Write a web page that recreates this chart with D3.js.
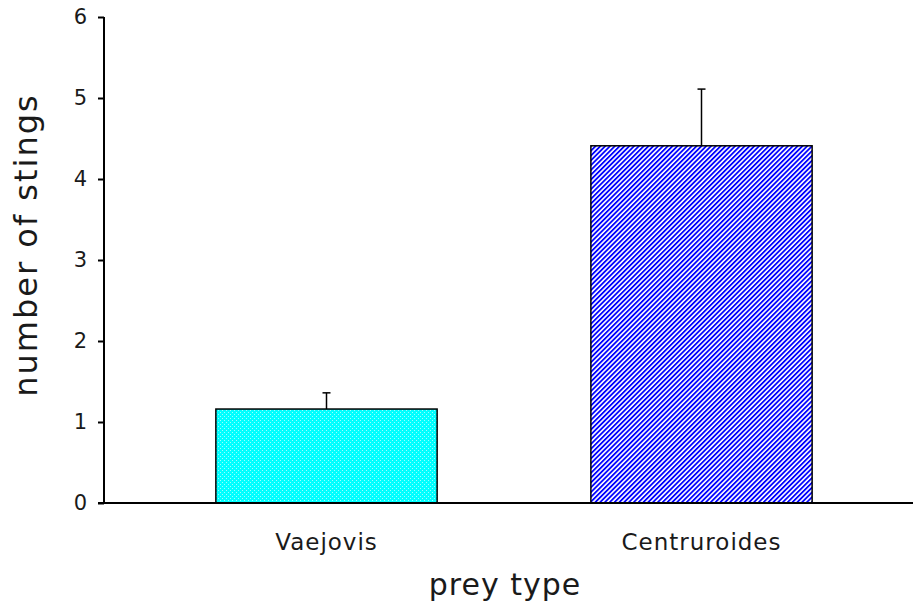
<!DOCTYPE html>
<html>
<head>
<meta charset="utf-8">
<script src="https://cdn.jsdelivr.net/npm/d3@7"></script>
<style>
  body { margin: 0; background: #fff; }
  #chart { width: 913px; height: 606px; }
  text { font-family: "DejaVu Sans", Verdana, sans-serif; fill: #1a1a1a; }
  .ytick { font-size: 21px; }
</style>
</head>
<body>
<div id="chart"></div>
<script>
var categories = ["Vaejovis", "Centruroides"];
var means = [1.16, 4.41];
var errTops = [1.36, 5.11];
var yTicks = [0, 1, 2, 3, 4, 5, 6];

var chartDiv = document.getElementById("chart");
var width = 913, height = 606;

var svg = d3.select(chartDiv).append("svg")
    .attr("width", width)
    .attr("height", height);

var defs = svg.append("defs");

// light dots laid over solid cyan
var p1 = defs.append("pattern")
    .attr("id", "cyanDots")
    .attr("patternUnits", "userSpaceOnUse")
    .attr("width", 4).attr("height", 4);
[[0, 0], [2, 2]].forEach(function(p) {
    p1.append("rect").attr("x", p[0]).attr("y", p[1]).attr("width", 1).attr("height", 1)
        .attr("fill", "#ffffff").attr("fill-opacity", 0.6).attr("shape-rendering", "crispEdges");
});

// blue diagonal stripes
var p2 = defs.append("pattern")
    .attr("id", "blueStripe")
    .attr("patternUnits", "userSpaceOnUse")
    .attr("width", 3.4).attr("height", 3.4)
    .attr("patternTransform", "rotate(45)");
p2.append("rect").attr("width", 3.4).attr("height", 3.4).attr("fill", "#ffffff");
p2.append("rect").attr("width", 1.8).attr("height", 3.4).attr("fill", "#0000ff");

var x = d3.scaleBand()
    .domain(categories)
    .range([139, 889])
    .paddingInner(0.41)
    .paddingOuter(0.205);

var y = d3.scaleLinear()
    .domain([0, 6])
    .range([503, 17]);

var baseFills = ["#00ffff", "url(#blueStripe)"];
var overFills = ["url(#cyanDots)", "none"];

// bars
var bars = svg.selectAll(".bar")
    .data(categories)
    .enter().append("g")
    .attr("class", "bar");
bars.append("rect")
    .attr("x", function(d) { return x(d); })
    .attr("y", function(d, i) { return y(means[i]); })
    .attr("width", x.bandwidth())
    .attr("height", function(d, i) { return y(0) - y(means[i]); })
    .attr("fill", function(d, i) { return baseFills[i]; });
bars.append("rect")
    .attr("x", function(d) { return x(d); })
    .attr("y", function(d, i) { return y(means[i]); })
    .attr("width", x.bandwidth())
    .attr("height", function(d, i) { return y(0) - y(means[i]); })
    .attr("fill", function(d, i) { return overFills[i]; })
    .attr("stroke", "#000")
    .attr("stroke-width", 1.5);

// error bars (upper only)
var eb = svg.selectAll(".err")
    .data(categories)
    .enter().append("g")
    .attr("class", "err");
eb.append("line")
    .attr("x1", function(d) { return x(d) + x.bandwidth() / 2; })
    .attr("x2", function(d) { return x(d) + x.bandwidth() / 2; })
    .attr("y1", function(d, i) { return y(means[i]); })
    .attr("y2", function(d, i) { return y(errTops[i]); })
    .attr("stroke", "#000").attr("stroke-width", 1.5);
eb.append("line")
    .attr("x1", function(d) { return x(d) + x.bandwidth() / 2 - 4; })
    .attr("x2", function(d) { return x(d) + x.bandwidth() / 2 + 4; })
    .attr("y1", function(d, i) { return y(errTops[i]); })
    .attr("y2", function(d, i) { return y(errTops[i]); })
    .attr("stroke", "#000").attr("stroke-width", 1.5);

// y axis
var yAxis = svg.append("g")
    .attr("transform", "translate(104,0)")
    .call(d3.axisLeft(y).tickValues(yTicks).tickFormat(d3.format("d")).tickSize(6).tickPadding(11));
yAxis.select(".domain").attr("stroke", "#000").attr("stroke-width", 2)
    .attr("d", "M0," + y(6) + "V" + y(0));
yAxis.selectAll(".tick line").attr("stroke", "#000").attr("stroke-width", 2);
yAxis.selectAll(".tick text").attr("class", "ytick").attr("font-size", 21);

// x axis
var xAxis = svg.append("g")
    .attr("transform", "translate(0," + y(0) + ")")
    .call(d3.axisBottom(x).tickSize(0).tickPadding(31));
xAxis.select(".domain").attr("stroke", "#000").attr("stroke-width", 2)
    .attr("d", "M98,0H913");
xAxis.selectAll(".tick text").style("font-size", "23px").style("letter-spacing", "1px");

// axis titles
svg.append("text")
    .attr("transform", "translate(37,245) rotate(-90)")
    .attr("text-anchor", "middle")
    .style("font-size", "32px")
    .style("letter-spacing", "2px")
    .text("number of stings");

svg.append("text")
    .attr("x", 505)
    .attr("y", 595)
    .attr("text-anchor", "middle")
    .style("font-size", "30px")
    .style("letter-spacing", "1px")
    .text("prey type");
</script>
</body>
</html>
